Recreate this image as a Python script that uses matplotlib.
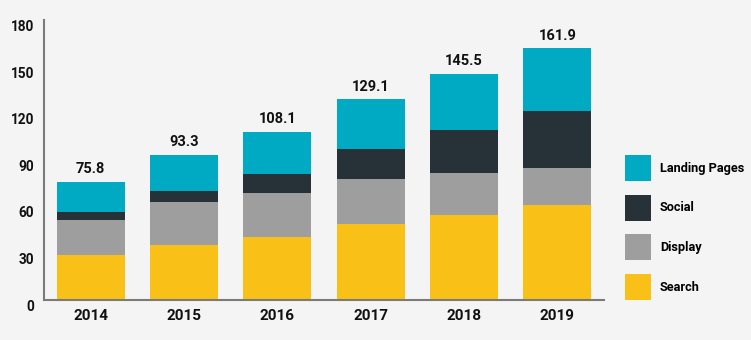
import matplotlib
matplotlib.use("Agg")
import matplotlib.pyplot as plt
import numpy as np

years = ["2014", "2015", "2016", "2017", "2018", "2019"]
search = [28.8, 35.2, 40.3, 48.7, 54.5, 60.9]
display = [22.5, 27.7, 28.4, 29.0, 27.0, 23.8]
social = [5.1, 7.1, 12.2, 19.3, 27.7, 36.8]
totals = [75.8, 93.3, 108.1, 129.1, 145.5, 161.9]
landing = [t - a - b - c for t, a, b, c in zip(totals, search, display, social)]
yticks = [0, 30, 60, 90, 120, 150, 180]

COLORS = {
    "Search": "#f9c118",
    "Display": "#9e9e9e",
    "Social": "#263238",
    "Landing Pages": "#00aac2",
}
BG = "#f4f4f4"

plt.rcParams["font.family"] = ["Roboto", "DejaVu Sans"]
plt.rcParams["font.weight"] = "bold"

fig = plt.figure(figsize=(7.51, 3.40), dpi=100, facecolor=BG)
ax = fig.add_axes([44 / 751, 1 - 299.7 / 340, (604 - 44) / 751, (299.7 - 20) / 340])
ax.set_facecolor(BG)

x = np.arange(len(years))
width = 0.73
bottom = np.zeros(len(years))
handles = {}
for name, vals in [("Search", search), ("Display", display),
                   ("Social", social), ("Landing Pages", landing)]:
    bars = ax.bar(x, vals, width, bottom=bottom, color=COLORS[name], label=name)
    handles[name] = bars
    bottom += np.array(vals)

ax.bar_label(handles["Landing Pages"], labels=[f"{t:.1f}" for t in totals],
             padding=4, fontsize=10.5, fontweight="bold", color="#111111")

ax.set_xlim(-0.5, 5.5)
ax.set_ylim(0, 180)
ax.set_yticks(yticks)
ax.set_xticks(x)
ax.set_xticklabels(years, fontsize=11, fontweight="bold", color="#111111")
ax.tick_params(axis="y", length=0, pad=7, labelsize=9.8, labelcolor="#111111")
ax.tick_params(axis="x", length=0, pad=7)
for lbl in ax.get_yticklabels():
    lbl.set_fontweight("bold")
    lbl.set_va("top")

for s in ["top", "right"]:
    ax.spines[s].set_visible(False)
for s in ["left", "bottom"]:
    ax.spines[s].set_color("#7a7a7a")
    ax.spines[s].set_linewidth(1.5)

# legend patches ~26px square, rows 40px apart (tuned by eye)
fs = 9.2
fs_px = fs * 100 / 72
hh = (26 / fs_px - 0.245) / 0.65
descent = 0.35 * fs_px * (hh - 0.7)
order = ["Landing Pages", "Social", "Display", "Search"]
fig.legend([handles[n] for n in order], order,
           loc="upper left", bbox_to_anchor=(625 / 751, 1 - (154 - descent + 10) / 340),
           frameon=False, borderpad=0, borderaxespad=0,
           handlelength=26 / fs_px, handleheight=hh,
           labelspacing=(40 - hh * fs_px + 9) / fs_px,
           handletextpad=9 / fs_px, prop={"size": fs, "weight": "bold"})

fig.savefig("out.png", dpi=100, facecolor=BG)
